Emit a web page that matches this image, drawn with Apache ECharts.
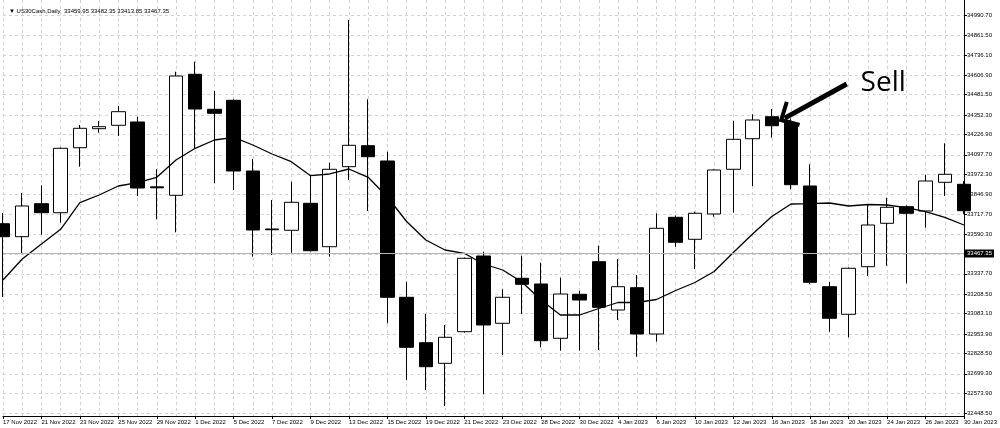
<!DOCTYPE html>
<html><head><meta charset="utf-8">
<script src="https://cdn.jsdelivr.net/npm/echarts@6/dist/echarts.min.js"></script>
<style>html,body{margin:0;padding:0;background:#fff}#c{width:1000px;height:428px}</style>
</head><body><div id="c"></div>
<script>
const titleText = '\u25BC US30Cash,Daily  33459.95 33482.35 33413.85 33467.35';
const dates = ['17 Nov 2022','18 Nov 2022','21 Nov 2022','22 Nov 2022','23 Nov 2022','24 Nov 2022','25 Nov 2022','28 Nov 2022','29 Nov 2022','30 Nov 2022',
  '1 Dec 2022','2 Dec 2022','5 Dec 2022','6 Dec 2022','7 Dec 2022','8 Dec 2022','9 Dec 2022','12 Dec 2022','13 Dec 2022','14 Dec 2022',
  '15 Dec 2022','16 Dec 2022','19 Dec 2022','20 Dec 2022','21 Dec 2022','22 Dec 2022','23 Dec 2022','27 Dec 2022','28 Dec 2022','29 Dec 2022',
  '30 Dec 2022','3 Jan 2023','4 Jan 2023','5 Jan 2023','6 Jan 2023','9 Jan 2023','10 Jan 2023','11 Jan 2023','12 Jan 2023','13 Jan 2023',
  '16 Jan 2023','17 Jan 2023','18 Jan 2023','19 Jan 2023','20 Jan 2023','23 Jan 2023','24 Jan 2023','25 Jan 2023','26 Jan 2023','27 Jan 2023','30 Jan 2023'];
const open  = [33657.7,33574.7,33785.5,33728.0,34143.0,34264.5,34286.2,34307.3,33893.0,33839.1,
  34612.0,34388.4,34445.9,33994.3,33624.0,33615.6,33788.0,33510.8,34021.8,34155.9,
  34058.2,33187.7,32897.7,32766.0,32968.0,33451.4,33021.6,33309.0,33272.6,32925.8,
  33206.8,33415.0,33106.5,33249.0,32953.2,33698.6,33558.1,33719.7,34005.2,34200.6,
  34341.1,34299.0,33898.5,33255.4,33079.1,33383.1,33660.3,33766.3,33738.8,33922.2,33909.4];
const high  = [33726.0,33853.8,33903.0,34145.0,34288.0,34313.7,34409.5,34341.1,34005.2,34628.6,
  34692.4,34505.3,34452.0,34071.0,33809.1,33926.0,33968.8,34047.4,34958.8,34452.3,
  34117.6,33287.3,33081.0,33010.7,33442.0,33478.9,33238.8,33453.4,33408.7,33312.8,
  33229.8,33517.2,33432.3,33330.1,33724.2,33710.0,33734.4,34005.0,34313.7,34356.5,
  34390.3,34330.0,34037.1,33287.3,33378.0,33783.6,33823.8,33775.0,33968.8,34171.3,33930.0];
const low   = [33189.6,33464.2,33587.5,33664.0,34021.8,34239.0,34217.9,33834.6,33685.8,33602.8,
  34139.3,33915.8,33873.0,33447.0,33457.8,33472.5,33480.0,33447.0,33936.8,33738.8,
  33021.6,32659.5,32595.6,32493.4,32962.0,32568.1,32819.1,33081.0,32868.3,32846.6,
  32846.6,32851.0,33042.7,32808.3,32904.1,33510.8,33368.4,33702.4,33728.0,33898.5,
  34207.0,33877.5,33270.7,32968.0,32932.2,33323.7,33389.5,33277.0,33632.2,33834.6,33720.0];
const close = [33574.7,33770.8,33728.0,34139.3,34267.0,34277.3,34373.1,33885.7,33887.0,34601.1,
  34390.3,34362.9,33994.3,33617.5,33619.0,33794.4,33485.3,34005.2,34158.5,34085.7,
  33187.7,32868.3,32744.4,32932.2,33436.7,33010.7,33187.7,33270.7,32910.5,33208.7,
  33170.4,33123.8,33255.4,32953.2,33628.4,33538.9,33724.2,34000.7,34196.8,34320.1,
  34283.6,33906.8,33283.4,33053.6,33372.9,33649.4,33762.5,33724.2,33930.5,33973.3,33740.8];
const maLine = [33298.1,33432.3,33528.1,33622.0,33791.9,33841.0,33898.5,33919.6,33954.1,34064.6,
  34139.3,34192.3,34209.6,34160.4,34102.9,34053.7,33964.3,33975.2,34007.1,33954.1,
  33828.3,33671.7,33553.6,33489.7,33468.7,33400.3,33362.0,33285.4,33170.4,33074.6,
  33074.6,33116.1,33154.4,33154.4,33173.6,33231.1,33282.2,33352.4,33473.8,33591.9,
  33703.7,33783.6,33785.5,33789.9,33770.8,33780.4,33777.2,33759.9,33734.4,33698.6,33649.4];
const priceLabels = [34990.70,34861.50,34736.10,34606.90,34481.50,34352.30,34226.90,34097.70,33972.30,33846.90,
  33717.70,33590.30,33337.70,33208.50,33083.10,32953.90,32828.50,32699.30,32573.90,32448.50];
const priceGrid = priceLabels.concat([33462.90]).sort((a,b)=>a-b);
const currentPrice = 33467.35;
const yMin = 32429.5, yMax = 35086.5;
const sellArrowTail = [43.9, 34550];
const sellArrowTip = [40.49, 34320];
const sellTextAt = [44.62, 34553];
const sellText = 'Sell';

const chart = echarts.init(document.getElementById('c'), null, {renderer:'canvas'});
const candles = dates.map((d,i)=>[open[i], close[i], low[i], high[i]]);
const fontFam = 'Liberation Sans';
const gridLine = {color:'#d2d2d2', type:[3,3], width:1};

chart.setOption({
  animation:false,
  backgroundColor:'#fff',
  title:{text:titleText, left:4, top:3, textStyle:{fontSize:6, fontWeight:'normal', color:'#000', fontFamily:fontFam}},
  grid:{left:2, right:31, top:0, bottom:12},
  xAxis:{type:'category', data:dates, boundaryGap:false,
    axisLine:{show:true, lineStyle:{color:'#000', width:1}},
    axisTick:{show:true, interval:1, length:3, lineStyle:{color:'#000'}},
    axisLabel:{interval:1, align:'left', fontSize:6, color:'#000', margin:3, fontFamily:fontFam},
    splitLine:{show:true, interval:0, lineStyle:gridLine}},
  yAxis:{type:'value', position:'right', min:yMin, max:yMax,
    axisLine:{show:true, lineStyle:{color:'#000', width:1}},
    axisTick:{show:true, length:3, customValues:priceGrid, lineStyle:{color:'#000'}},
    axisLabel:{customValues:priceLabels, formatter:v=>Number(v).toFixed(2), fontSize:6, color:'#000', margin:3, fontFamily:fontFam},
    splitLine:{show:true, lineStyle:gridLine}},
  series:[
    {type:'candlestick', data:candles, barWidth:14,
      itemStyle:{color:'#fff', color0:'#000', borderColor:'#000', borderColor0:'#000', borderWidth:1},
      markLine:{silent:true, symbol:'none', animation:false,
        lineStyle:{color:'#b4b4b4', type:'solid', width:1},
        label:{show:true, position:'end', formatter:()=>currentPrice.toFixed(2), backgroundColor:'#000', color:'#fff', fontSize:6, fontFamily:fontFam, padding:[1,2], distance:1},
        emphasis:{disabled:true},
        data:[{yAxis:currentPrice}]}},
    {type:'line', data:maLine, symbol:'none', showSymbol:false, z:3,
      lineStyle:{color:'#000', width:1.3}}
  ]
});

function px(p){
  const i0 = Math.floor(p[0]), f = p[0]-i0;
  const a = chart.convertToPixel({gridIndex:0},[i0,p[1]]);
  const b = chart.convertToPixel({gridIndex:0},[i0+1,p[1]]);
  return [a[0]+f*(b[0]-a[0]), a[1]];
}
const T = px(sellArrowTip), S = px(sellArrowTail), L = px(sellTextAt);
const dx = S[0]-T[0], dy = S[1]-T[1], len = Math.hypot(dx,dy);
const ux = dx/len, uy = dy/len;
function rot(a){const c=Math.cos(a), s=Math.sin(a); return [ux*c-uy*s, ux*s+uy*c];}
const r1 = rot(44*Math.PI/180), r2 = rot(-44*Math.PI/180);
const armLen = 19;
chart.setOption({graphic:[
  {type:'line', z:100, shape:{x1:S[0], y1:S[1], x2:T[0]+ux*4, y2:T[1]+uy*4}, style:{stroke:'#000', lineWidth:5}},
  {type:'polyline', z:100, shape:{points:[[T[0]+r1[0]*armLen, T[1]+r1[1]*armLen],[T[0],T[1]],[T[0]+r2[0]*armLen, T[1]+r2[1]*armLen]]},
    style:{stroke:'#000', lineWidth:4, lineJoin:'miter', fill:null}},
  {type:'text', z:100, style:{text:sellText, x:L[0], y:L[1], fontSize:28, fontFamily:'Open Sans', fill:'#000', align:'left', verticalAlign:'middle'}}
]});
</script>
</body></html>
